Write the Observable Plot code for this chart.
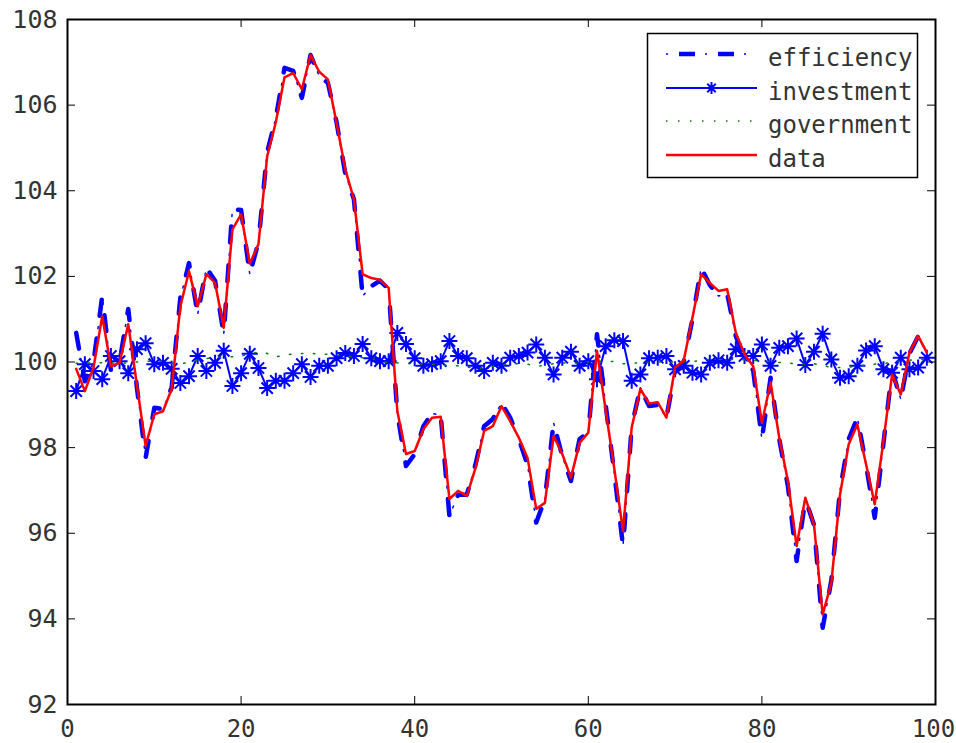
<!DOCTYPE html>
<html><head><meta charset="utf-8">
<script src="https://cdn.jsdelivr.net/npm/d3@7"></script>
<script src="https://cdn.jsdelivr.net/npm/@observablehq/plot@0.6"></script>
<style>
html,body{margin:0;padding:0;background:#fff;}
#chart{position:relative;width:956px;height:743px;}
#legend{position:absolute;left:0;top:0;pointer-events:none;}
</style></head><body><div id="chart"></div>
<script>
const xTicks = [0, 20, 40, 60, 80, 100];
const yTicks = [92, 94, 96, 98, 100, 102, 104, 106, 108];
const seriesNames = ["efficiency", "investment", "government", "data"];

const efficiency = [100.68, 99.55, 100.0, 101.54, 99.8, 100.0, 101.24, 99.4, 97.76, 98.93,
  98.9, 99.4, 101.5, 102.31, 101.12, 102.2, 101.9, 100.65, 103.57, 103.55,
  102.05, 102.8, 104.9, 105.7, 106.87, 106.8, 106.17, 107.17, 106.68, 106.52,
  105.6, 104.4, 103.8, 101.54, 101.77, 101.9, 101.7, 98.8, 97.57, 97.85,
  98.5, 98.8, 98.75, 96.4, 96.9, 96.9, 97.6, 98.5, 98.67, 99.04,
  98.7, 98.2, 97.6, 96.25, 96.8, 98.58, 97.8, 97.22, 98.2, 98.35,
  100.65, 99.0, 97.4, 95.7, 98.5, 99.4, 98.97, 99.0, 98.7, 99.8,
  100.0, 101.0, 102.2, 101.8, 101.54, 101.6, 100.6, 100.1, 99.8, 98.2,
  99.63, 98.2, 97.1, 95.35, 96.8, 96.2, 93.79, 94.9, 97.0, 98.2,
  98.7, 97.6, 96.36, 98.1, 99.8, 99.13, 100.2, 100.6, 100.2];

const investment = [99.32, 99.95, 99.79, 99.6, 100.14, 100.02, 99.74, 100.3, 100.44, 99.95,
  99.98, 99.84, 99.51, 99.67, 100.14, 99.79, 99.98, 100.26, 99.44, 99.74,
  100.19, 99.86, 99.39, 99.56, 99.56, 99.74, 99.95, 99.65, 99.91, 99.91,
  100.09, 100.21, 100.14, 100.42, 100.09, 100.02, 100.02, 100.68, 100.42, 100.09,
  99.91, 99.95, 100.02, 100.49, 100.14, 100.09, 99.91, 99.79, 99.98, 99.91,
  100.1, 100.14, 100.22, 100.41, 100.1, 99.71, 100.1, 100.24, 99.91, 100.02,
  99.6, 100.37, 100.51, 100.49, 99.56, 99.71, 100.09, 100.1, 100.14, 99.83,
  99.91, 99.75, 99.71, 99.98, 100.04, 99.98, 100.3, 100.14, 100.14, 100.41,
  99.91, 100.33, 100.37, 100.55, 99.93, 100.24, 100.66, 100.06, 99.63, 99.67,
  99.91, 100.27, 100.37, 99.83, 99.75, 100.1, 99.83, 99.87, 100.1];

const government = [99.97, 99.97, 99.98, 99.98, 99.98, 99.97, 99.98, 100.0, 100.02, 100.02,
  100.02, 99.97, 99.95, 100.0, 100.05, 100.08, 100.1, 100.12, 100.12, 100.14,
  100.18, 100.24, 100.2, 100.12, 100.16, 100.19, 100.2, 100.2, 100.19, 100.18,
  100.16, 100.14, 100.12, 100.1, 100.08, 100.03, 99.98, 99.98, 99.97, 99.96,
  99.95, 99.95, 99.93, 99.92, 99.91, 99.88, 99.85, 99.86, 99.9, 99.93,
  99.95, 99.96, 99.95, 99.9, 99.92, 99.96, 99.98, 99.97, 99.98, 100.0,
  100.02, 100.02, 100.01, 99.96, 99.97, 99.98, 99.99, 100.0, 100.0, 100.0,
  100.0, 100.01, 100.04, 100.06, 100.06, 100.06, 100.06, 100.05, 100.04, 100.02,
  100.01, 99.99, 99.98, 99.95, 99.95, 99.96, 99.92, 99.87, 99.87, 99.88,
  99.9, 99.93, 99.95, 99.96, 99.99, 100.02, 100.04, 100.06, 100.05];

const dataSeries = [99.84, 99.32, 99.87, 101.07, 99.9, 99.98, 100.88, 99.46, 98.04, 98.78,
  98.85, 99.37, 101.3, 102.12, 101.3, 102.05, 101.85, 100.8, 103.1, 103.45,
  102.3, 102.75, 104.8, 105.6, 106.65, 106.75, 106.37, 107.17, 106.78, 106.6,
  105.58, 104.5, 103.8, 102.05, 101.96, 101.92, 101.73, 98.85, 97.85, 97.92,
  98.43, 98.7, 98.72, 96.8, 96.99, 96.87, 97.52, 98.39, 98.5, 98.97,
  98.62, 98.23, 97.76, 96.57, 96.71, 98.27, 97.85, 97.3, 98.11, 98.35,
  100.26, 98.88, 97.5, 96.05, 98.47, 99.37, 99.03, 99.06, 98.7, 99.87,
  100.04, 101.04, 102.05, 101.85, 101.66, 101.7, 100.68, 100.18, 99.9, 98.58,
  99.52, 98.23, 97.22, 95.7, 96.83, 96.21, 94.1, 94.84, 96.9, 98.08,
  98.54, 97.61, 96.68, 98.15, 99.71, 99.24, 100.22, 100.61, 100.22];

const periods = d3.range(1, dataSeries.length + 1);
const rows = periods.map((p, i) => ({
  p, efficiency: efficiency[i], investment: investment[i],
  government: government[i], data: dataSeries[i]
}));

// 8-armed asterisk marker
const asterisk8 = {
  draw(ctx, size) {
    const r = Math.sqrt(size / Math.PI), d = r / Math.SQRT2;
    ctx.moveTo(-r, 0); ctx.lineTo(r, 0);
    ctx.moveTo(0, -r); ctx.lineTo(0, r);
    ctx.moveTo(-d, -d); ctx.lineTo(d, d);
    ctx.moveTo(-d, d); ctx.lineTo(d, -d);
  }
};

const BLUE = "#0000ff", GREEN = "#008000", RED = "#ff0000";
const FONT = "DejaVu Sans Mono";
const TXT = "#333";
const FS = 24;
const W = 956, H = 743, ML = 67, MR = 21, MT = 19, MB = 39;
const innerH = H - MT - MB, innerW = W - ML - MR;
const TICK = 8;
const xTicksInner = xTicks.slice(0, -1);
const xTicksLast = xTicks.slice(-1);

const chart = Plot.plot({
  width: W, height: H,
  marginLeft: ML, marginRight: MR, marginTop: MT, marginBottom: MB,
  style: {fontFamily: FONT, fontSize: FS + "px", color: TXT, background: "white"},
  x: {domain: [0, 100]},
  y: {domain: [92, 108]},
  marks: [
    // efficiency: thick dashes + thin dots (dash-dot)
    Plot.line(rows, {x: "p", y: "efficiency", stroke: BLUE, strokeWidth: 4.5, strokeDasharray: "16 23"}),
    Plot.line(rows, {x: "p", y: "efficiency", stroke: BLUE, strokeWidth: 1.5, strokeDasharray: "2 37", strokeDashoffset: 13}),
    // investment
    Plot.line(rows, {x: "p", y: "investment", stroke: BLUE, strokeWidth: 2}),
    Plot.dot(rows, {x: "p", y: "investment", symbol: asterisk8, r: 8, stroke: BLUE, fill: "none", strokeWidth: 2}),
    // government
    Plot.line(rows, {x: "p", y: "government", stroke: GREEN, strokeWidth: 1.5, strokeDasharray: "1.5 10.5"}),
    // data
    Plot.line(rows, {x: "p", y: "data", stroke: RED, strokeWidth: 2.5}),
    // inward tick marks on all four sides
    Plot.tickX(xTicks, {x: d => d, insetTop: innerH - TICK, stroke: "#000", strokeWidth: 1}),
    Plot.tickX(xTicks, {x: d => d, insetBottom: innerH - TICK, stroke: "#000", strokeWidth: 1}),
    Plot.tickY(yTicks, {y: d => d, insetRight: innerW - TICK, stroke: "#000", strokeWidth: 1}),
    Plot.tickY(yTicks, {y: d => d, insetLeft: innerW - TICK, stroke: "#000", strokeWidth: 1}),
    Plot.axisX({ticks: xTicksInner, tickSize: 0, tickPadding: 15, label: null, fontSize: FS, fontFamily: FONT, fill: TXT}),
    Plot.axisX({ticks: xTicksLast, tickSize: 0, tickPadding: 15, label: null, fontSize: FS, fontFamily: FONT, fill: TXT, dx: -2}),
    Plot.axisY({ticks: yTicks, tickSize: 0, tickPadding: 10, label: null, fontSize: FS + 1, fontFamily: FONT, fill: TXT}),
    Plot.frame({stroke: "#000", strokeWidth: 2})
  ]
});

const holder = document.getElementById("chart");
holder.appendChild(chart);

// Legend overlay
const lg = d3.select(holder).append("svg").attr("id", "legend")
  .attr("width", W).attr("height", H);
const box = {x: 647.5, y: 33.5, w: 270, h: 144};
lg.append("rect").attr("x", box.x).attr("y", box.y).attr("width", box.w).attr("height", box.h)
  .attr("fill", "white").attr("stroke", "#000").attr("stroke-width", 1.5);
const rowY = [54, 88, 121, 155];
const lx1 = 666, lx2 = 757, tx = 768;
const entries = lg.selectAll("g.entry").data(seriesNames).join("g").attr("class", "entry")
  .attr("transform", (d, i) => `translate(0,${rowY[i]})`);
entries.each(function(name) {
  const g = d3.select(this);
  const ln = () => g.append("line").attr("x1", lx1).attr("x2", lx2).attr("y1", 0).attr("y2", 0);
  if (name === "efficiency") {
    ln().attr("stroke", BLUE).attr("stroke-width", 4.5).attr("stroke-dasharray", "16 23").attr("stroke-dashoffset", -13);
    ln().attr("stroke", BLUE).attr("stroke-width", 1.5).attr("stroke-dasharray", "2 37");
  } else if (name === "investment") {
    ln().attr("stroke", BLUE).attr("stroke-width", 2);
    g.append("path").attr("d", d3.symbol(asterisk8, Math.PI * 36)())
      .attr("transform", `translate(${(lx1 + lx2) / 2},0)`)
      .attr("stroke", BLUE).attr("stroke-width", 2).attr("fill", "none");
  } else if (name === "government") {
    ln().attr("stroke", GREEN).attr("stroke-width", 1.5).attr("stroke-dasharray", "1.5 10.5");
  } else {
    ln().attr("stroke", RED).attr("stroke-width", 2.5);
  }
  g.append("text").attr("x", tx).attr("y", 12).text(name)
    .attr("font-family", FONT).attr("font-size", 24).attr("fill", TXT);
});
</script></body></html>
